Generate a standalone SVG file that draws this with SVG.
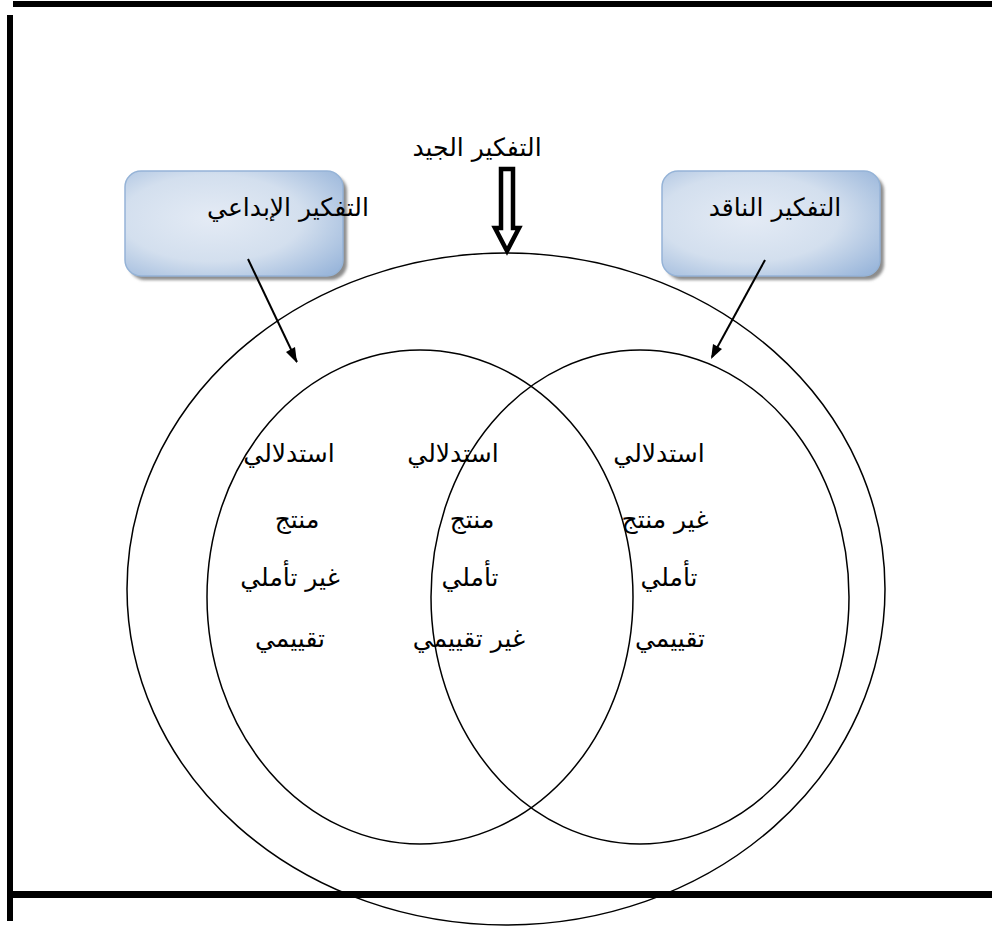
<svg xmlns="http://www.w3.org/2000/svg" width="992" height="928" viewBox="0 0 992 928">
<style>
.t{font-family:"DejaVu Sans","Noto Sans",sans-serif;font-size:25px;fill:#000;text-anchor:middle}
.e{fill:none;stroke:#000;stroke-width:1.5}
.bar{fill:#000}
.box{fill:url(#g);stroke:#95b3d7;stroke-width:1.5}
.sh{fill:#8c8c8c;filter:url(#b)}
</style>
<defs>
<radialGradient id="g" cx="0.4" cy="0.45" r="0.75">
<stop offset="0" stop-color="#e4ebf5"/>
<stop offset="0.55" stop-color="#d3dfee"/>
<stop offset="1" stop-color="#9bb7db"/>
</radialGradient>
<filter id="b" x="-10%" y="-10%" width="130%" height="130%"><feGaussianBlur stdDeviation="1.5"/></filter>
</defs>
<g id="frame">
<rect class="bar" x="13" y="1" width="979" height="6"/>
<rect class="bar" x="7" y="15" width="6" height="906"/>
<rect class="bar" x="13" y="891" width="979" height="7"/>
</g>
<g id="outer"><ellipse class="e" cx="506" cy="589" rx="379" ry="336"/></g>
<g id="creative-set"><ellipse class="e" cx="420" cy="597" rx="213" ry="247"/></g>
<g id="critical-set"><ellipse class="e" cx="640" cy="597" rx="209" ry="247"/></g>
<g id="box-creative">
<rect class="sh" x="129" y="175" width="218" height="105" rx="16"/>
<rect class="box" x="125" y="171" width="218" height="105" rx="16"/>
<text class="t" x="288" y="216">التفكير الإبداعي</text>
</g>
<g id="box-critical">
<rect class="sh" x="666" y="175" width="218" height="105" rx="16"/>
<rect class="box" x="662" y="171" width="218" height="105" rx="16"/>
<text class="t" x="775" y="216">التفكير الناقد</text>
</g>
<g id="good-label">
<text class="t" x="477" y="156">التفكير الجيد</text>
</g>
<g id="connectors">
<polygon points="501,169 513,169 513,228 519,228 507,251 495,228 501,228" fill="#fff" stroke="#000" stroke-width="4.5" stroke-linejoin="miter"/>
<line x1="248" y1="259" x2="297" y2="362" stroke="#000" stroke-width="2"/>
<path d="M297,363 L286,352 L295,347 Z" fill="#000"/>
<line x1="765" y1="260" x2="712" y2="357" stroke="#000" stroke-width="2"/>
<path d="M711,359 L713,344 L722,349 Z" fill="#000"/>
</g>
<g id="col-left">
<text class="t" x="289" y="462">استدلالي</text>
<text class="t" x="297" y="528">منتج</text>
<text class="t" x="290" y="586">غير تأملي</text>
<text class="t" x="290" y="647">تقييمي</text>
</g>
<g id="col-mid">
<text class="t" x="453" y="462">استدلالي</text>
<text class="t" x="472" y="528">منتج</text>
<text class="t" x="470" y="586">تأملي</text>
<text class="t" x="469" y="647">غير تقييمي</text>
</g>
<g id="col-right">
<text class="t" x="659" y="462">استدلالي</text>
<text class="t" x="665" y="528">غير منتج</text>
<text class="t" x="669" y="586">تأملي</text>
<text class="t" x="670" y="647">تقييمي</text>
</g>
</svg>
